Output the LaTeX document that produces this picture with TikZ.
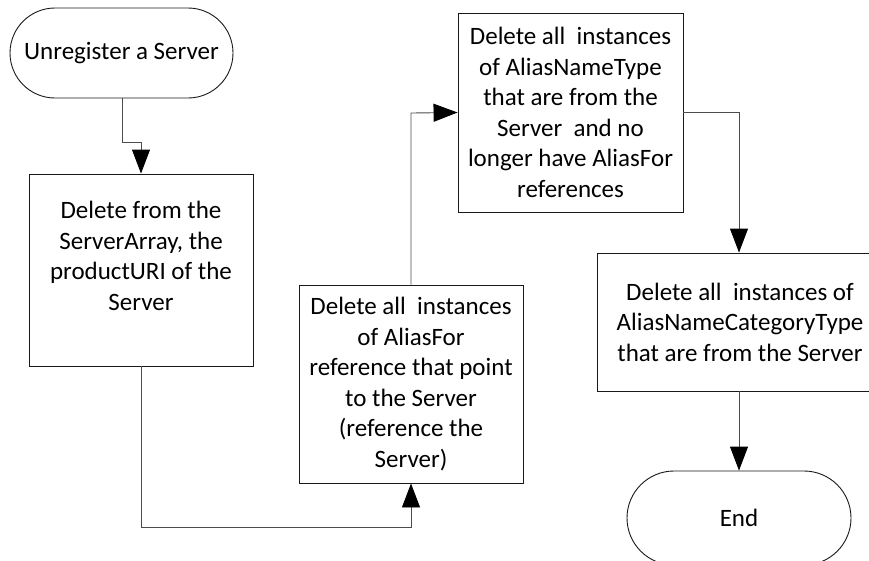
\documentclass[tikz,border=0pt]{standalone}
\usepackage{fontspec}
\setmainfont{Carlito}
\usetikzlibrary{arrows.meta,shapes.misc}
\begin{document}
\begin{tikzpicture}[x=1pt,y=-1pt,
  every node/.style={font=\fontsize{25}{30.5}\selectfont},
  procbox/.style={draw=black!90, line width=0.9pt, inner sep=0pt, align=center},
  term/.style={draw=black!90, line width=0.9pt, rounded rectangle, inner sep=0pt, align=center},
  txt/.style={inner sep=0pt, align=center},
  conn/.style={draw=black!70, line width=0.9pt, -{Triangle[length=24pt,width=18pt,black]}}]
\clip (0,0) rectangle (869,560);
\useasboundingbox (0,0) rectangle (869,560);
% start
\node[term, minimum width=223pt, minimum height=90pt] (start) at (121.5,53) {Unregister a Server};
% box 1
\node[procbox, minimum width=224pt, minimum height=192pt] (b1) at (141,270) {};
\node[txt] (b1t) at (141,256) {Delete from the\\ServerArray, the\\productURI of the\\Server};
% box 2
\node[procbox, minimum width=224pt, minimum height=198pt] (b2) at (411,384) {Delete all~ instances\\of AliasFor\\reference that point\\to the Server\\(reference the\\Server)};
% box 3
\node[procbox, minimum width=225pt, minimum height=199pt] (b3) at (570.5,112.5) {Delete all~ instances\\of AliasNameType\\that are from the\\Server~ and no\\longer have AliasFor\\references};
% box 4
\node[procbox, minimum width=286pt, minimum height=138pt] (b4) at (740,322) {Delete all~ instances of\\AliasNameCategoryType\\that are from the Server};
% end
\node[term, minimum width=224pt, minimum height=94pt] (end) at (739,518) {End};
% connectors
\coordinate (c1) at (122,142);
\coordinate (c2) at (141,142);
\draw[conn] (start.south -| c1) -- (c1) -- (c2) -- (c2 |- b1.north);
\coordinate (c3) at (141,527);
\coordinate (c4) at (411,527);
\draw[conn] (b1.south -| c3) -- (c3) -- (c4) -- (b2.south);
\coordinate (c5) at (411,113);
\draw[conn] (b2.north) -- (c5) -- (b3.west);
\coordinate (c6) at (739,112.5);
\draw[conn] (b3.east) -- (c6) -- (c6 |- b4.north);
\draw[conn] (b4.south -| end.north) -- (end.north);
\end{tikzpicture}
\end{document}
